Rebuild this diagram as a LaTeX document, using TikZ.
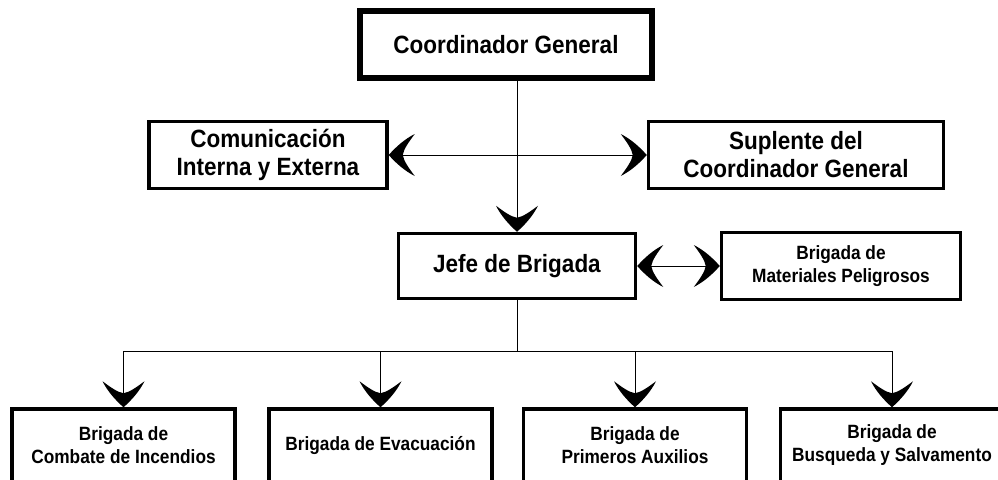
\documentclass[tikz,border=0pt]{standalone}
\usepackage{fontspec}
\setmainfont[FakeStretch=0.9]{Liberation Sans}
\pgfdeclarearrow{
  name = Crescent,
  setup code = {
    \pgfarrowssettipend{0pt}
    \pgfarrowssetlineend{-12pt}
    \pgfarrowssetvisualbackend{-26pt}
    \pgfarrowssetbackend{-26pt}
    \pgfarrowshullpoint{0pt}{0pt}
    \pgfarrowshullpoint{-26pt}{21pt}
    \pgfarrowshullpoint{-26pt}{-21pt}
  },
  drawing code = {
    \pgfpathmoveto{\pgfpoint{0pt}{0pt}}
    \pgfpathcurveto{\pgfpoint{-7pt}{8pt}}{\pgfpoint{-16pt}{16pt}}{\pgfpoint{-26pt}{21pt}}
    \pgfpathcurveto{\pgfpoint{-20pt}{13pt}}{\pgfpoint{-15pt}{6pt}}{\pgfpoint{-14pt}{0pt}}
    \pgfpathcurveto{\pgfpoint{-15pt}{-6pt}}{\pgfpoint{-20pt}{-13pt}}{\pgfpoint{-26pt}{-21pt}}
    \pgfpathcurveto{\pgfpoint{-16pt}{-16pt}}{\pgfpoint{-7pt}{-8pt}}{\pgfpoint{0pt}{0pt}}
    \pgfpathclose
    \pgfusepathqfill
  }
}
\begin{document}
\begin{tikzpicture}[x=1pt,y=-1pt,
  box/.style={draw=black, line width=3.5pt, fill=white, rectangle, inner sep=0pt,
    align=center, font=\bfseries\fontsize{25}{28}\selectfont},
  smallbox/.style={box, font=\bfseries\fontsize{19.2}{23}\selectfont},
  topbox/.style={box, line width=5.5pt},
  conn/.style={draw=black, line width=1pt},
  arr/.style={conn, -Crescent},
  darr/.style={conn, Crescent-Crescent}]
\useasboundingbox (0,0) rectangle (998,479);
\fill[white] (0,0) rectangle (998,479);

\node[topbox, minimum width=292pt, minimum height=67pt] (coord) at (506,44.5) {Coordinador General};
\node[box, minimum width=238pt, minimum height=67pt] (com) at (268,155) {Comunicación\\Interna y Externa};
\node[box, minimum width=295pt, minimum height=67pt] (sup) at (796,155) {Suplente del\\Coordinador General};
\node[box, minimum width=237pt, minimum height=65pt] (jefe) at (517,266) {Jefe de Brigada};
\node[smallbox, minimum width=239pt, minimum height=67pt] (mat) at (841,266) {Brigada de\\Materiales Peligrosos};

\node[smallbox, minimum width=223pt, minimum height=73pt] (b1) at (123.5,445.5) {Brigada de\\Combate de Incendios};
\node[smallbox, minimum width=223pt, minimum height=73pt] (b2) at (380.5,445.5) {Brigada de Evacuación};
\node[smallbox, minimum width=223pt, minimum height=73pt] (b3) at (635,445.5) {Brigada de\\Primeros Auxilios};
\node[smallbox, minimum width=223pt, minimum height=73pt] (b4) at (892,445.5) {Brigada de\\Busqueda y Salvamento};

\coordinate (bus) at (517,351);

\draw[arr] (coord.south -| jefe.north) -- (jefe.north);
\draw[darr] (com.east) -- (sup.west);
\draw[darr] (jefe.east) -- (mat.west);
\draw[conn] (jefe.south) -- (bus);
\draw[conn] (b1.north |- bus) -- (b4.north |- bus);
\draw[arr] (b1.north |- bus) -- (b1.north);
\draw[arr] (b2.north |- bus) -- (b2.north);
\draw[arr] (b3.north |- bus) -- (b3.north);
\draw[arr] (b4.north |- bus) -- (b4.north);
\end{tikzpicture}
\end{document}
